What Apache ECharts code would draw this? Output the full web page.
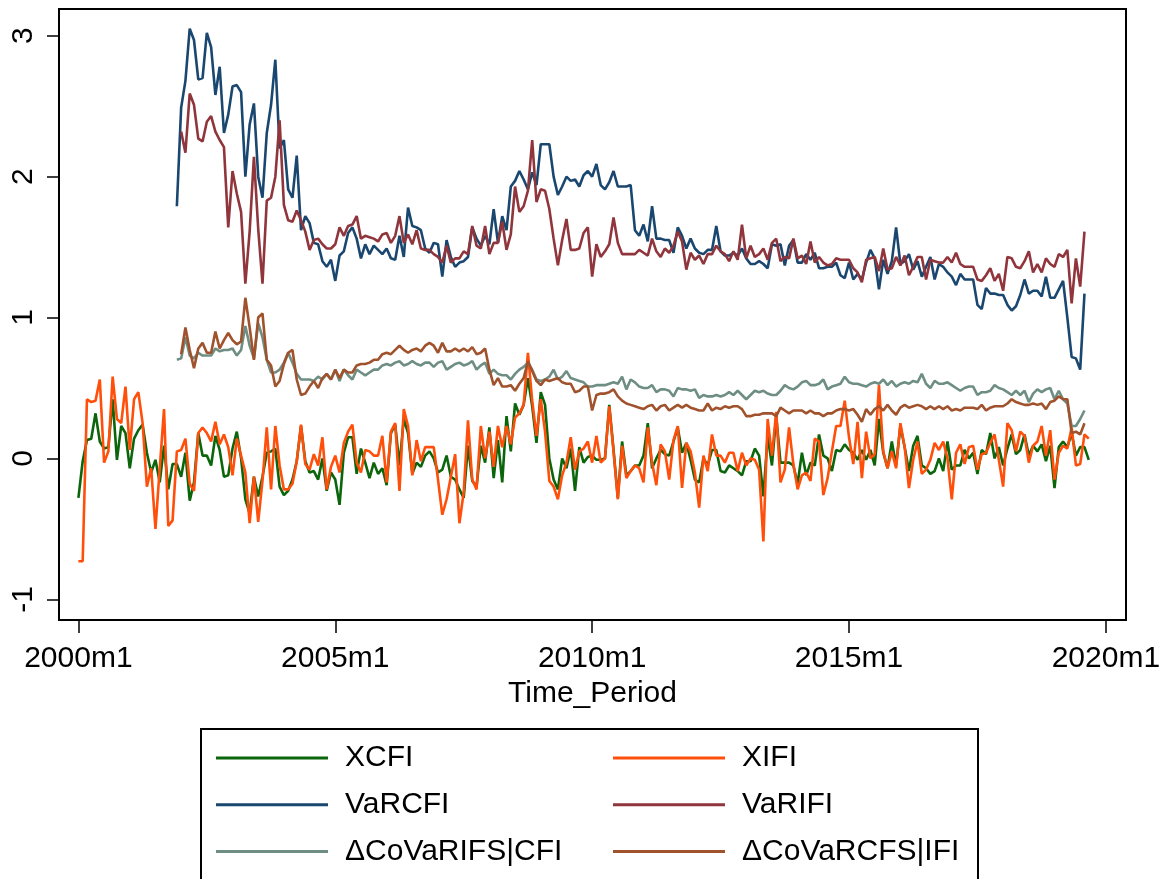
<!DOCTYPE html>
<html>
<head>
<meta charset="utf-8">
<script src="https://cdn.jsdelivr.net/npm/echarts@6/dist/echarts.min.js"></script>
<style>
html,body{margin:0;padding:0;background:#fff;}
#chart{width:1166px;height:879px;}
</style>
</head>
<body>
<div id="chart"></div>
<script>
// Monthly index: 0 = 2000m1
const xTickValues = [0, 60, 120, 180, 240];
const yTickValues = [-1, 0, 1, 2, 3];
const seriesNames = ["XCFI", "XIFI", "VaRCFI", "VaRIFI", "\u0394CoVaRIFS|CFI", "\u0394CoVaRCFS|IFI"];

const xcfiStart = 0;
const xcfi = [
-0.28,-0.02,0.13,0.14,0.32,0.12,0.07,0.08,0.42,-0.01,
0.23,0.18,-0.07,0.14,0.20,0.24,0.04,-0.10,-0.01,-0.17,
0.09,-0.22,-0.04,-0.04,-0.13,0.04,-0.30,-0.17,0.18,0.02,
0.02,-0.05,0.16,0.06,-0.13,-0.12,0.07,0.19,0.00,-0.29,
-0.39,-0.13,-0.27,-0.13,0.04,0.05,0.07,-0.20,-0.26,-0.23,
-0.15,-0.02,0.23,-0.02,-0.10,-0.09,-0.15,0.00,-0.23,-0.10,
-0.15,-0.33,0.04,0.15,0.15,-0.11,0.07,-0.03,-0.14,-0.03,
-0.11,-0.07,-0.19,0.18,0.24,-0.05,0.28,0.18,-0.11,-0.03,
-0.06,0.02,0.05,0.00,-0.10,-0.08,0.02,-0.13,-0.15,-0.22,
-0.28,0.09,-0.16,-0.20,0.09,-0.03,0.22,-0.14,0.13,-0.17,
0.30,0.05,0.39,0.31,0.38,0.57,0.37,0.11,0.47,0.38,
0.00,-0.15,-0.22,0.00,-0.07,0.07,-0.23,0.08,-0.03,0.01,
0.02,-0.01,-0.01,0.00,0.38,0.06,-0.28,0.12,-0.12,-0.09,
-0.05,-0.05,0.02,0.25,-0.07,0.00,0.06,0.03,0.02,0.12,
0.22,0.04,0.11,-0.01,-0.15,-0.17,0.00,-0.05,0.06,0.06,
-0.09,-0.10,-0.05,-0.07,-0.09,-0.12,-0.02,-0.02,0.07,0.02,
-0.27,0.16,-0.05,0.30,-0.03,-0.03,-0.03,-0.05,-0.18,0.04,
-0.12,-0.03,-0.05,0.17,0.02,0.00,-0.09,0.06,0.05,0.10,
0.06,0.04,-0.01,0.06,-0.01,0.06,-0.05,0.28,0.04,-0.07,
0.12,-0.05,0.23,0.08,-0.09,0.09,0.16,-0.05,-0.07,-0.11,
-0.09,0.00,-0.09,0.12,-0.08,-0.05,-0.05,0.06,0.00,0.04,
-0.11,0.06,0.03,0.18,0.00,0.08,-0.05,0.07,0.17,0.03,
0.06,0.17,0.02,0.09,0.05,0.10,-0.02,0.09,-0.21,0.08,
0.12,0.08,0.18,0.02,0.08,0.08,-0.01
];

const xifiStart = 0;
const xifi = [
-0.73,-0.73,0.42,0.40,0.41,0.56,-0.03,0.05,0.58,0.28,
0.25,0.51,0.06,0.42,0.47,0.25,-0.20,-0.07,-0.50,-0.07,
0.35,-0.48,-0.44,0.05,0.06,0.14,-0.18,-0.23,0.18,0.22,
0.18,0.12,0.26,0.10,0.17,0.08,-0.12,0.14,0.02,-0.10,
-0.46,-0.13,-0.45,-0.16,0.22,-0.22,0.23,-0.05,-0.22,-0.22,
-0.18,-0.02,0.24,-0.04,-0.08,0.03,-0.05,0.15,-0.22,-0.06,
0.02,-0.10,0.11,0.19,0.24,-0.03,-0.10,0.06,0.05,0.02,
0.02,0.16,-0.17,0.19,0.25,-0.23,0.35,0.23,-0.12,0.13,
-0.02,0.08,0.08,0.08,-0.15,-0.40,-0.29,-0.13,0.03,-0.46,
-0.24,0.27,-0.15,-0.22,0.23,0.00,0.19,-0.06,0.23,0.08,
0.23,0.10,0.29,0.32,0.38,0.75,0.41,0.16,0.42,0.19,
-0.16,-0.20,-0.29,-0.12,-0.03,0.15,-0.08,0.05,0.07,0.12,
-0.03,0.16,-0.03,0.00,0.37,0.05,-0.29,0.09,-0.14,-0.09,
-0.05,-0.07,-0.17,0.22,-0.03,-0.19,0.10,0.05,-0.15,0.13,
0.23,-0.21,0.11,0.05,-0.10,-0.35,0.02,-0.09,0.17,0.02,
0.02,-0.03,0.04,0.04,-0.09,0.04,-0.05,0.00,-0.01,-0.08,
-0.59,0.28,0.02,0.33,-0.17,-0.08,0.22,-0.04,-0.22,-0.12,
-0.10,-0.16,0.14,0.12,-0.26,-0.14,0.05,0.23,0.23,0.41,
0.15,-0.04,0.26,-0.14,0.19,0.00,0.03,0.52,0.05,-0.07,
0.05,-0.07,0.25,0.08,-0.21,-0.01,0.12,-0.11,-0.08,-0.01,
0.11,0.06,0.12,0.00,-0.29,0.04,0.10,-0.04,0.08,0.09,
-0.08,0.03,0.04,0.11,0.17,-0.01,-0.20,0.25,0.20,0.05,
0.19,0.16,-0.03,0.09,0.12,0.23,0.02,0.20,-0.15,0.04,
0.09,0.07,0.22,-0.05,-0.04,0.17,0.14
];

const varcfiStart = 23;
const varcfi = [
1.79,2.49,2.68,3.05,2.97,2.69,2.70,
3.02,2.92,2.58,2.78,2.31,2.44,2.64,2.65,2.60,2.00,
2.37,2.52,2.00,1.85,2.31,2.51,2.83,2.20,2.26,1.91,
1.85,2.15,1.62,1.72,1.67,1.53,1.52,1.40,1.36,1.41,
1.26,1.44,1.47,1.60,1.64,1.56,1.42,1.52,1.45,1.51,
1.48,1.45,1.49,1.42,1.41,1.58,1.43,1.78,1.65,1.64,
1.62,1.49,1.46,1.53,1.52,1.29,1.55,1.43,1.36,1.39,
1.40,1.43,1.64,1.56,1.51,1.58,1.52,1.77,1.53,1.72,
1.62,1.93,1.97,2.04,1.98,1.91,2.03,1.94,2.23,2.23,
2.23,2.00,1.87,1.93,2.00,1.97,1.98,1.93,2.01,2.04,
2.00,2.09,1.94,1.91,1.96,2.04,1.93,1.93,1.93,1.94,
1.62,1.58,1.66,1.54,1.79,1.56,1.56,1.55,1.55,1.46,
1.64,1.58,1.49,1.56,1.49,1.46,1.45,1.48,1.48,1.65,
1.47,1.44,1.44,1.46,1.44,1.49,1.42,1.38,1.38,1.40,
1.38,1.35,1.52,1.51,1.52,1.37,1.51,1.55,1.39,1.39,
1.45,1.41,1.46,1.35,1.35,1.36,1.36,1.39,1.30,1.28,
1.39,1.27,1.31,1.27,1.39,1.48,1.42,1.20,1.41,1.31,
1.40,1.64,1.38,1.40,1.45,1.34,1.40,1.29,1.36,1.43,
1.27,1.38,1.36,1.32,1.29,1.23,1.31,1.27,1.27,1.27,
1.09,1.06,1.21,1.17,1.17,1.16,1.16,1.09,1.05,1.08,
1.16,1.27,1.17,1.19,1.19,1.15,1.29,1.14,1.14,1.20,
1.26,1.00,0.72,0.71,0.63,1.17
];

const varifiStart = 24;
const varifi = [
2.32,2.17,2.59,2.51,2.27,2.25,
2.39,2.43,2.32,2.26,2.21,1.64,2.04,1.88,1.75,1.24,
1.61,2.14,1.63,1.24,1.83,1.85,2.00,2.40,1.80,1.69,
1.68,1.76,1.69,1.61,1.48,1.55,1.56,1.52,1.49,1.49,
1.52,1.64,1.58,1.65,1.66,1.72,1.56,1.58,1.57,1.56,
1.54,1.59,1.60,1.53,1.58,1.72,1.53,1.59,1.52,1.62,
1.49,1.48,1.48,1.45,1.43,1.39,1.51,1.39,1.42,1.42,
1.47,1.45,1.65,1.51,1.49,1.65,1.45,1.53,1.53,1.68,
1.48,1.59,1.93,1.75,1.79,1.90,2.26,1.82,1.91,1.90,
1.77,1.56,1.37,1.55,1.70,1.48,1.48,1.49,1.60,1.64,
1.29,1.52,1.43,1.47,1.52,1.71,1.53,1.45,1.45,1.45,
1.45,1.48,1.46,1.44,1.56,1.47,1.43,1.49,1.46,1.51,
1.61,1.54,1.34,1.46,1.41,1.44,1.38,1.45,1.45,1.51,
1.47,1.45,1.40,1.47,1.41,1.66,1.42,1.51,1.43,1.45,
1.49,1.41,1.53,1.56,1.40,1.43,1.42,1.56,1.42,1.44,
1.38,1.54,1.39,1.43,1.39,1.37,1.38,1.42,1.41,1.41,
1.41,1.35,1.32,1.25,1.41,1.42,1.43,1.33,1.49,1.34,
1.35,1.43,1.37,1.44,1.30,1.36,1.43,1.43,1.27,1.41,
1.40,1.39,1.39,1.43,1.39,1.46,1.38,1.36,1.36,1.36,
1.27,1.26,1.30,1.35,1.26,1.31,1.19,1.43,1.42,1.36,
1.35,1.40,1.47,1.32,1.38,1.32,1.42,1.38,1.36,1.45,
1.43,1.48,1.10,1.42,1.22,1.61
];

const covarIfsCfiStart = 23;
const covarIfsCfi = [
0.70,0.71,0.86,0.73,0.71,0.75,0.73,
0.73,0.73,0.78,0.76,0.77,0.77,0.78,0.73,0.77,0.94,
0.80,0.71,0.96,0.86,0.70,0.61,0.61,0.63,0.68,0.75,
0.68,0.60,0.56,0.56,0.56,0.55,0.58,0.56,0.60,0.56,
0.63,0.55,0.63,0.59,0.56,0.63,0.61,0.59,0.61,0.63,
0.63,0.66,0.67,0.66,0.68,0.69,0.66,0.67,0.69,0.67,
0.66,0.68,0.68,0.65,0.68,0.69,0.63,0.65,0.67,0.68,
0.66,0.67,0.69,0.63,0.66,0.68,0.60,0.63,0.60,0.59,
0.59,0.56,0.60,0.63,0.65,0.68,0.63,0.56,0.55,0.56,
0.58,0.63,0.56,0.58,0.62,0.57,0.56,0.55,0.54,0.51,
0.51,0.52,0.52,0.52,0.53,0.54,0.53,0.58,0.49,0.56,
0.54,0.51,0.50,0.50,0.52,0.47,0.49,0.49,0.48,0.44,
0.50,0.49,0.49,0.48,0.49,0.43,0.45,0.44,0.44,0.45,
0.44,0.45,0.47,0.45,0.48,0.45,0.42,0.45,0.48,0.47,
0.48,0.46,0.45,0.45,0.48,0.52,0.50,0.49,0.51,0.54,
0.55,0.52,0.52,0.53,0.56,0.49,0.51,0.52,0.53,0.58,
0.54,0.53,0.53,0.52,0.51,0.53,0.54,0.53,0.56,0.52,
0.55,0.51,0.53,0.54,0.53,0.55,0.54,0.60,0.53,0.50,
0.55,0.53,0.53,0.54,0.52,0.50,0.48,0.50,0.51,0.51,
0.45,0.47,0.47,0.48,0.52,0.50,0.49,0.47,0.45,0.48,
0.45,0.48,0.40,0.46,0.49,0.47,0.49,0.50,0.42,0.48,
0.42,0.39,0.23,0.23,0.28,0.34
];

const covarCfsIfiStart = 24;
const covarCfsIfi = [
0.74,0.93,0.77,0.64,0.78,0.82,
0.75,0.75,0.90,0.78,0.84,0.89,0.84,0.81,0.83,1.14,
0.93,0.70,1.00,1.03,0.70,0.66,0.51,0.55,0.67,0.75,
0.77,0.56,0.45,0.46,0.51,0.55,0.50,0.57,0.60,0.56,
0.63,0.57,0.63,0.61,0.61,0.66,0.67,0.67,0.68,0.70,
0.70,0.74,0.75,0.74,0.77,0.80,0.77,0.75,0.77,0.78,
0.76,0.80,0.82,0.80,0.75,0.82,0.76,0.76,0.78,0.76,
0.78,0.76,0.79,0.74,0.75,0.78,0.63,0.52,0.57,0.51,
0.51,0.52,0.48,0.53,0.57,0.69,0.62,0.55,0.52,0.56,
0.55,0.56,0.57,0.54,0.53,0.53,0.47,0.48,0.51,0.51,
0.34,0.45,0.46,0.46,0.47,0.49,0.44,0.41,0.39,0.38,
0.37,0.36,0.35,0.37,0.38,0.34,0.37,0.38,0.34,0.36,
0.38,0.36,0.38,0.36,0.35,0.34,0.34,0.39,0.34,0.36,
0.35,0.37,0.36,0.37,0.37,0.35,0.30,0.30,0.31,0.31,
0.32,0.32,0.32,0.30,0.36,0.34,0.32,0.34,0.34,0.34,
0.32,0.34,0.32,0.32,0.30,0.32,0.32,0.34,0.35,0.35,
0.34,0.35,0.31,0.26,0.35,0.31,0.35,0.37,0.34,0.38,
0.34,0.31,0.36,0.38,0.36,0.37,0.38,0.37,0.35,0.37,
0.35,0.37,0.35,0.37,0.34,0.35,0.34,0.36,0.36,0.36,
0.35,0.38,0.34,0.36,0.37,0.37,0.37,0.39,0.42,0.40,
0.39,0.38,0.38,0.39,0.38,0.39,0.35,0.40,0.41,0.44,
0.42,0.42,0.18,0.19,0.17,0.25
];

const colors = ["#0b650b", "#ff4f0a", "#1a476f", "#90353b", "#6e8e84", "#a0522d"];

function toPoints(start, arr) {
  return arr.map(function (v, i) { return [start + i, v]; });
}
function monthLabel(v) {
  const y = 2000 + Math.floor(v / 12);
  const m = (v % 12) + 1;
  return y + "m" + m;
}

const seriesData = [
  toPoints(xcfiStart, xcfi),
  toPoints(xifiStart, xifi),
  toPoints(varcfiStart, varcfi),
  toPoints(varifiStart, varifi),
  toPoints(covarIfsCfiStart, covarIfsCfi),
  toPoints(covarCfsIfiStart, covarCfsIfi)
];

const FONT = "Liberation Sans, Arial, sans-serif";
const chart = echarts.init(document.getElementById("chart"), null, {renderer: "canvas"});

const legendCommon = {
  orient: "vertical",
  top: 740,
  padding: 0,
  itemWidth: 112,
  itemHeight: 3,
  itemGap: 10.7,
  icon: "rect",
  selectedMode: false,
  textStyle: {fontFamily: FONT, fontSize: 30, color: "#000", lineHeight: 36, padding: [0, 0, 0, 12]}
};

chart.setOption({
  animation: false,
  backgroundColor: "#fff",
  color: colors,
  grid: {left: 59, right: 40, top: 9, bottom: 259, show: true, borderColor: "#000", borderWidth: 2, containLabel: false},
  xAxis: {
    type: "value",
    min: -4.53,
    max: 244.7,
    name: "Time_Period",
    nameLocation: "middle",
    nameGap: 56,
    nameTextStyle: {fontFamily: FONT, fontSize: 30, color: "#000"},
    axisLine: {show: true, onZero: false, lineStyle: {color: "#000", width: 2}},
    axisTick: {show: true, customValues: xTickValues, length: 13, lineStyle: {color: "#000", width: 1.5}},
    axisLabel: {customValues: xTickValues, formatter: monthLabel, margin: 24, fontFamily: FONT, fontSize: 30, color: "#000"},
    splitLine: {show: false}
  },
  yAxis: {
    type: "value",
    min: -1.147,
    max: 3.19,
    axisLine: {show: true, onZero: false, lineStyle: {color: "#000", width: 2}},
    axisTick: {show: true, customValues: yTickValues, length: 12, lineStyle: {color: "#000", width: 1.5}},
    axisLabel: {customValues: yTickValues, rotate: 90, margin: 20, fontFamily: FONT, fontSize: 30, color: "#000"},
    splitLine: {show: false}
  },
  legend: [
    Object.assign({left: 216, data: [seriesNames[0], seriesNames[2], seriesNames[4]]}, legendCommon),
    Object.assign({left: 613, data: [seriesNames[1], seriesNames[3], seriesNames[5]]}, legendCommon)
  ],
  graphic: [{
    type: "rect",
    shape: {x: 201, y: 729, width: 777, height: 200},
    style: {fill: "none", stroke: "#000", lineWidth: 2},
    silent: true
  }],
  series: seriesData.map(function (d, i) {
    return {
      name: seriesNames[i],
      type: "line",
      data: d,
      showSymbol: false,
      symbol: "none",
      connectNulls: false,
      lineStyle: {width: 2.6, color: colors[i]},
      itemStyle: {color: colors[i]}
    };
  })
});
</script>
</body>
</html>
